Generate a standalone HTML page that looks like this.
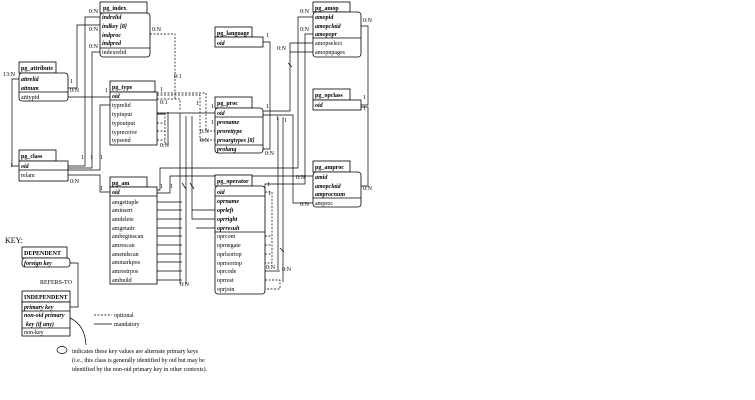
<!DOCTYPE html>
<html><head><meta charset="utf-8"><style>
html,body{margin:0;padding:0;background:#fff;}
svg{display:block;}
text{font-family:"Liberation Serif",serif;font-size:6px;fill:#000;}
.b{font-weight:bold;}
.i{font-style:italic;font-weight:bold;}
.l{stroke:#000;stroke-width:0.7;fill:none;}
.d{stroke:#000;stroke-width:0.7;fill:none;stroke-dasharray:2,1.5;}
.bx{stroke:#000;stroke-width:0.8;fill:#fff;}
</style></head><body>
<svg width="755" height="400" viewBox="0 0 755 400" xmlns="http://www.w3.org/2000/svg">
<!-- connectors -->
<g>
<!-- attribute -> class -->
<polyline class="l" points="19,79 12,79 12,166 19,166"/>
<!-- atttypid -> type oid -->
<polyline class="l" points="68,97 110,97"/>
<!-- attribute -> index indkey -->
<polyline class="l" points="68,88 77,88 77,25 100,25"/>
<!-- class -> index -->
<polyline class="l" points="68,166 85,166 85,17 100,17"/>
<polyline class="l" points="68,168 92,168 92,52 100,52"/>
<polyline class="l" points="68,170 100,170 100,105 110,105"/>
<!-- relam -> am -->
<polyline class="l" points="68,175 100,175 100,192 110,192"/>
<!-- indpred dashed -->
<polyline class="d" points="150,34 175,34 175,100"/>
<!-- type oid dashed to proc -->
<polyline class="d" points="157,95 200,95 200,140 215,140"/>
<polyline class="d" points="157,93 206,93 206,131 215,131"/>
<polyline class="d" points="157,99 180,99 180,110"/>
<!-- type proc refs -->
<polyline class="d" points="157,114 165,114 165,145"/>
<line class="l" x1="157" y1="114" x2="165" y2="114"/>
<polyline class="d" points="157,123 165,123"/>
<polyline class="d" points="157,131 165,131"/>
<polyline class="d" points="157,140 165,140"/>
<polyline class="l" points="168,145 168,112"/>
<!-- proc oid left line -->
<polyline class="l" points="130,113 215,113"/>
<polyline class="l" points="180,113 180,284"/>
<polyline class="l" points="186,116 186,284"/>
<!-- pg_am row lines -->
<g class="l">
<line x1="157" y1="202" x2="182" y2="202"/><line x1="157" y1="210" x2="182" y2="210"/>
<line x1="157" y1="219" x2="182" y2="219"/><line x1="157" y1="228" x2="182" y2="228"/>
<line x1="157" y1="236" x2="182" y2="236"/><line x1="157" y1="245" x2="182" y2="245"/>
<line x1="157" y1="254" x2="182" y2="254"/><line x1="157" y1="262" x2="182" y2="262"/>
<line x1="157" y1="271" x2="182" y2="271"/><line x1="157" y1="280" x2="182" y2="280"/>
<line x1="182" y1="183" x2="186" y2="189"/><line x1="190" y1="183" x2="194" y2="189"/>
</g>
<!-- type -> operator oprleft/right -->
<polyline class="l" points="192,116 192,219 215,219"/>
<polyline class="l" points="192,210 215,210"/>
<polyline class="l" points="196,228 215,228"/>
<!-- am oid -> amop amopid / amproc amid -->
<polyline class="l" points="157,190 160,190 160,168 298,168 298,17 313,17"/>
<polyline class="l" points="157,193 170,193 170,176 313,176"/>
<!-- language -> prolang -->
<polyline class="l" points="263,42 270,42 270,149 263,149"/>
<!-- proc oid right -> amop select/npages, amproc -->
<polyline class="l" points="263,111 290,111 290,43 313,43"/>
<polyline class="l" points="290,52 313,52"/>
<polyline class="l" points="263,115 293,115 293,203 313,203"/>
<line class="l" x1="288" y1="63" x2="292" y2="67"/>
<!-- amopopr -> operator oid -->
<polyline class="l" points="313,34 305,34 305,184 265,184 265,190"/>
<polyline class="l" points="278,117 278,270"/>
<polyline class="l" points="283,117 283,282"/>
<!-- operator dashed -->
<polyline class="d" points="265,192 272,192 272,263 265,263"/>
<polyline class="d" points="265,236 272,236"/><polyline class="d" points="265,245 272,245"/><polyline class="d" points="265,254 272,254"/>
<polyline class="d" points="265,280 280,280 280,289 265,289"/>
<line class="l" x1="265" y1="271" x2="280" y2="271"/>
<line class="l" x1="280" y1="248" x2="284" y2="252"/>
<!-- amop <-> opclass <-> amproc -->
<polyline class="l" points="361,26 368,26 368,105 361,105"/>
<polyline class="l" points="361,107 368,107 368,186 361,186"/>
<!-- key -->
<polyline class="l" points="70,263 78,263 78,307 70,307"/>
<path class="l" d="M70,318 Q85,325 86,345"/>
<line class="d" x1="94" y1="315" x2="112" y2="315"/>
<line class="l" x1="94" y1="324" x2="112" y2="324"/>
<ellipse class="l" cx="62" cy="350" rx="5" ry="3.5"/>
</g>

<!-- boxes -->
<g>
<!-- helper: title + body -->
<rect class="bx" x="100" y="2" width="47" height="11"/><text class="b" x="103" y="10">pg_index</text>
<rect class="bx" x="100" y="13" width="50" height="44" rx="3"/><line class="l" x1="100" y1="48" x2="150" y2="48"/>
<text class="i" x="102" y="19">indrelid</text><text class="i" x="102" y="28">indkey [8]</text><text class="i" x="102" y="37">indproc</text><text class="i" x="102" y="45">indpred</text><text x="102" y="54">indexrelid</text>

<rect class="bx" x="19" y="62" width="37" height="11"/><text class="b" x="21" y="70">pg_attribute</text>
<rect class="bx" x="19" y="73" width="49" height="28" rx="3"/><line class="l" x1="19" y1="92" x2="68" y2="92"/>
<text class="i" x="21" y="81">attrelid</text><text class="i" x="21" y="90">attnum</text><text x="21" y="99">atttypid</text>

<rect class="bx" x="110" y="81" width="45" height="11"/><text class="b" x="112" y="89">pg_type</text>
<rect class="bx" x="110" y="92" width="47" height="53"/><line class="l" x1="110" y1="100" x2="157" y2="100"/>
<text class="i" x="112" y="98">oid</text><text x="112" y="107">typrelid</text><text x="112" y="116">typinput</text><text x="112" y="125">typoutput</text><text x="112" y="134">typreceive</text><text x="112" y="142">typsend</text>

<rect class="bx" x="19" y="150" width="37" height="11"/><text class="b" x="21" y="158">pg_class</text>
<rect class="bx" x="19" y="161" width="49" height="20"/><line class="l" x1="19" y1="170" x2="68" y2="170"/>
<text class="i" x="21" y="168">oid</text><text x="21" y="177">relam</text>

<rect class="bx" x="110" y="177" width="37" height="10"/><text class="b" x="112" y="185">pg_am</text>
<rect class="bx" x="110" y="187" width="47" height="97"/><line class="l" x1="110" y1="196" x2="157" y2="196"/>
<text class="i" x="112" y="194">oid</text>
<text x="112" y="204">amgettuple</text><text x="112" y="212">aminsert</text><text x="112" y="221">amdelete</text><text x="112" y="230">amgetattr</text><text x="112" y="238">ambeginscan</text><text x="112" y="247">amrescan</text><text x="112" y="256">amendscan</text><text x="112" y="264">ammarkpos</text><text x="112" y="273">amrestrpos</text><text x="112" y="282">ambuild</text>

<rect class="bx" x="215" y="27" width="37" height="10"/><text class="b" x="217" y="35">pg_language</text>
<rect class="bx" x="215" y="37" width="48" height="10"/><text class="i" x="217" y="45">oid</text>

<rect class="bx" x="215" y="97" width="37" height="11"/><text class="b" x="217" y="105">pg_proc</text>
<rect class="bx" x="215" y="108" width="48" height="45" rx="3"/><line class="l" x1="215" y1="117" x2="263" y2="117"/><line class="l" x1="215" y1="145" x2="263" y2="145"/>
<text class="i" x="217" y="115">oid</text><text class="i" x="217" y="124">proname</text><text class="i" x="217" y="133">prorettype</text><text class="i" x="217" y="142">proargtypes [8]</text><text class="i" x="217" y="151">prolang</text>

<rect class="bx" x="215" y="175" width="37" height="11"/><text class="b" x="217" y="183">pg_operator</text>
<rect class="bx" x="215" y="186" width="50" height="108" rx="3"/><line class="l" x1="215" y1="196" x2="265" y2="196"/><line class="l" x1="215" y1="232" x2="265" y2="232"/>
<text class="i" x="217" y="194">oid</text><text class="i" x="217" y="203">oprname</text><text class="i" x="217" y="212">oprleft</text><text class="i" x="217" y="221">oprright</text><text class="i" x="217" y="230">oprresult</text>
<text x="217" y="238">oprcom</text><text x="217" y="247">oprnegate</text><text x="217" y="256">oprlsortop</text><text x="217" y="265">oprrsortop</text><text x="217" y="273">oprcode</text><text x="217" y="282">oprrest</text><text x="217" y="291">oprjoin</text>

<rect class="bx" x="313" y="2" width="37" height="10"/><text class="b" x="315" y="10">pg_amop</text>
<rect class="bx" x="313" y="12" width="48" height="45" rx="3"/><line class="l" x1="313" y1="38" x2="361" y2="38"/>
<text class="i" x="315" y="19">amopid</text><text class="i" x="315" y="28">amopclaid</text><text class="i" x="315" y="36">amopopr</text><text x="315" y="45">amopselect</text><text x="315" y="54">amopnpages</text>

<rect class="bx" x="313" y="89" width="37" height="11"/><text class="b" x="315" y="97">pg_opclass</text>
<rect class="bx" x="313" y="100" width="48" height="10"/><text class="i" x="315" y="107">oid</text>

<rect class="bx" x="313" y="161" width="37" height="11"/><text class="b" x="315" y="169">pg_amproc</text>
<rect class="bx" x="313" y="172" width="48" height="35" rx="3"/><line class="l" x1="313" y1="198" x2="361" y2="198"/>
<text class="i" x="315" y="179">amid</text><text class="i" x="315" y="188">amopclaid</text><text class="i" x="315" y="196">amprocnum</text><text x="315" y="205">amproc</text>

<!-- key -->
<text x="5" y="243" style="font-size:8px">KEY:</text>
<rect class="bx" x="22" y="247" width="45" height="11"/><text class="b" x="24" y="255">DEPENDENT</text>
<rect class="bx" x="22" y="258" width="48" height="9" rx="3"/><text class="i" x="24" y="265">foreign key</text>
<text x="40" y="284">REFERS-TO</text>
<rect class="bx" x="22" y="291" width="48" height="11"/><text class="b" x="24" y="299">INDEPENDENT</text>
<rect class="bx" x="22" y="302" width="48" height="34"/><line class="l" x1="22" y1="311" x2="70" y2="311"/><line class="l" x1="22" y1="328" x2="70" y2="328"/>
<text class="i" x="24" y="309">primary key</text><text class="i" x="24" y="317">non-oid primary</text><text class="i" x="26" y="326">key (if any)</text><text x="24" y="334">non-key</text>
<text x="114" y="317">optional</text><text x="114" y="326">mandatory</text>
<text x="72" y="353">indicates these key values are alternate primary keys</text>
<text x="72" y="362">(i.e., this class is generally identified by oid but may be</text>
<text x="72" y="371">identified by the non-oid primary key in other contexts).</text>
</g>

<!-- cardinality labels -->
<g>
<text x="89" y="13">0:N</text><text x="89" y="31">0:N</text><text x="89" y="48">0:N</text><text x="152" y="31">0:N</text><text x="174" y="78">0:1</text>
<text x="3" y="76">13:N</text><text x="70" y="83">1</text><text x="70" y="92">0:N</text><text x="105" y="92">1</text>
<text x="160" y="91">1</text><text x="160" y="104">0:1</text><text x="196" y="105">1</text><text x="160" y="147">0:N</text>
<text x="10" y="167">1</text><text x="81" y="159">1</text><text x="90" y="159">1</text><text x="100" y="159">1</text><text x="70" y="183">0:N</text>
<text x="100" y="190">1</text><text x="160" y="188">1</text><text x="170" y="188">1</text><text x="180" y="286">0:N</text>
<text x="200" y="133">0:N</text><text x="200" y="142">0:N</text><text x="211" y="108">1</text><text x="211" y="124">1</text>
<text x="266" y="37">1</text><text x="265" y="155">0:N</text><text x="266" y="108">1</text><text x="276" y="120">1</text><text x="284" y="122">1</text><text x="277" y="50">0:N</text>
<text x="267" y="186">1</text><text x="268" y="195">1</text><text x="266" y="269">0:N</text><text x="282" y="271">0:N</text>
<text x="300" y="13">0:N</text><text x="300" y="31">0:N</text><text x="296" y="179">0:N</text><text x="300" y="206">0:N</text>
<text x="363" y="22">0:N</text><text x="363" y="99">1</text><text x="363" y="110">1</text><text x="363" y="190">0:N</text>
</g>
</svg>
</body></html>
